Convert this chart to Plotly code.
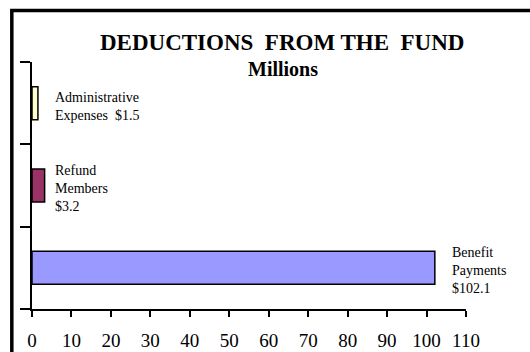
import plotly.graph_objects as go

# ---- data ----
categories = ["Benefit Payments", "Refund Members", "Administrative Expenses"]
values = [102.1, 3.2, 1.5]
label_texts = ["Benefit<br>Payments<br>$102.1", "Refund<br>Members<br>$3.2",
               "Administrative<br>Expenses\u00a0\u00a0$1.5"]
x_ticks = [0, 10, 20, 30, 40, 50, 60, 70, 80, 90, 100, 110]

# ---- style ----
bar_colors = ["#9999FF", "#993366", "#FFFFCC"]
label_xshift = [15, 8, 15]
SERIF = "Liberation Serif, Times New Roman, serif"

fig = go.Figure()
fig.add_trace(go.Bar(
    y=categories, x=values, orientation="h",
    marker=dict(color=bar_colors, line=dict(color="black", width=1.5)),
    width=0.4, showlegend=False, hoverinfo="skip",
))

for cat, val, txt, dx in zip(categories, values, label_texts, label_xshift):
    fig.add_annotation(x=val, y=cat, xref="x", yref="y", text=txt,
                       showarrow=False, xanchor="left", yanchor="middle",
                       align="left", xshift=dx, yshift=-3,
                       font=dict(family=SERIF, size=14, color="black"))

W, H = 530, 352
L, R, T, B = 31.7, 466.0, 62.0, 309.5
pw, ph = R - L, B - T

def px(xp):
    return (xp - L) / pw

def py(yp):
    return (B - yp) / ph

# outer frame
fig.add_shape(type="rect", xref="paper", yref="paper",
              x0=px(11.5), x1=px(570), y0=py(10.5), y1=py(380),
              line=dict(color="black", width=3.5), fillcolor="rgba(0,0,0,0)")

fig.add_annotation(x=px(282), y=py(42), xref="paper", yref="paper",
                   text="<b>DEDUCTIONS\u00a0\u00a0FROM THE\u00a0\u00a0FUND</b>",
                   showarrow=False, xanchor="center", yanchor="middle",
                   font=dict(family=SERIF, size=23, color="black"))
fig.add_annotation(x=px(283), y=py(69), xref="paper", yref="paper",
                   text="<b>Millions</b>",
                   showarrow=False, xanchor="center", yanchor="middle",
                   font=dict(family=SERIF, size=20, color="black"))

fig.update_xaxes(range=[0, 110], tickvals=x_ticks, ticktext=[str(v) for v in x_ticks],
                 showgrid=False, zeroline=False, showline=True, linecolor="black",
                 linewidth=2, ticks="outside", ticklen=6, tickwidth=1.5,
                 tickcolor="black", ticklabelstandoff=7, automargin=False,
                 tickfont=dict(family=SERIF, size=19, color="black"))
fig.update_yaxes(range=[-0.5, 2.5], type="category", categoryorder="array",
                 categoryarray=categories, showticklabels=False,
                 tickson="boundaries", ticks="outside", ticklen=10, tickwidth=2,
                 tickcolor="black", showgrid=False, zeroline=False, automargin=False,
                 showline=True, linecolor="black", linewidth=2)

fig.update_layout(width=W, height=H, autosize=False,
                  margin=dict(l=L, r=W - R, t=T, b=H - B, pad=0),
                  plot_bgcolor="white", paper_bgcolor="white",
                  bargap=0.6)

fig.write_html("out.html")
